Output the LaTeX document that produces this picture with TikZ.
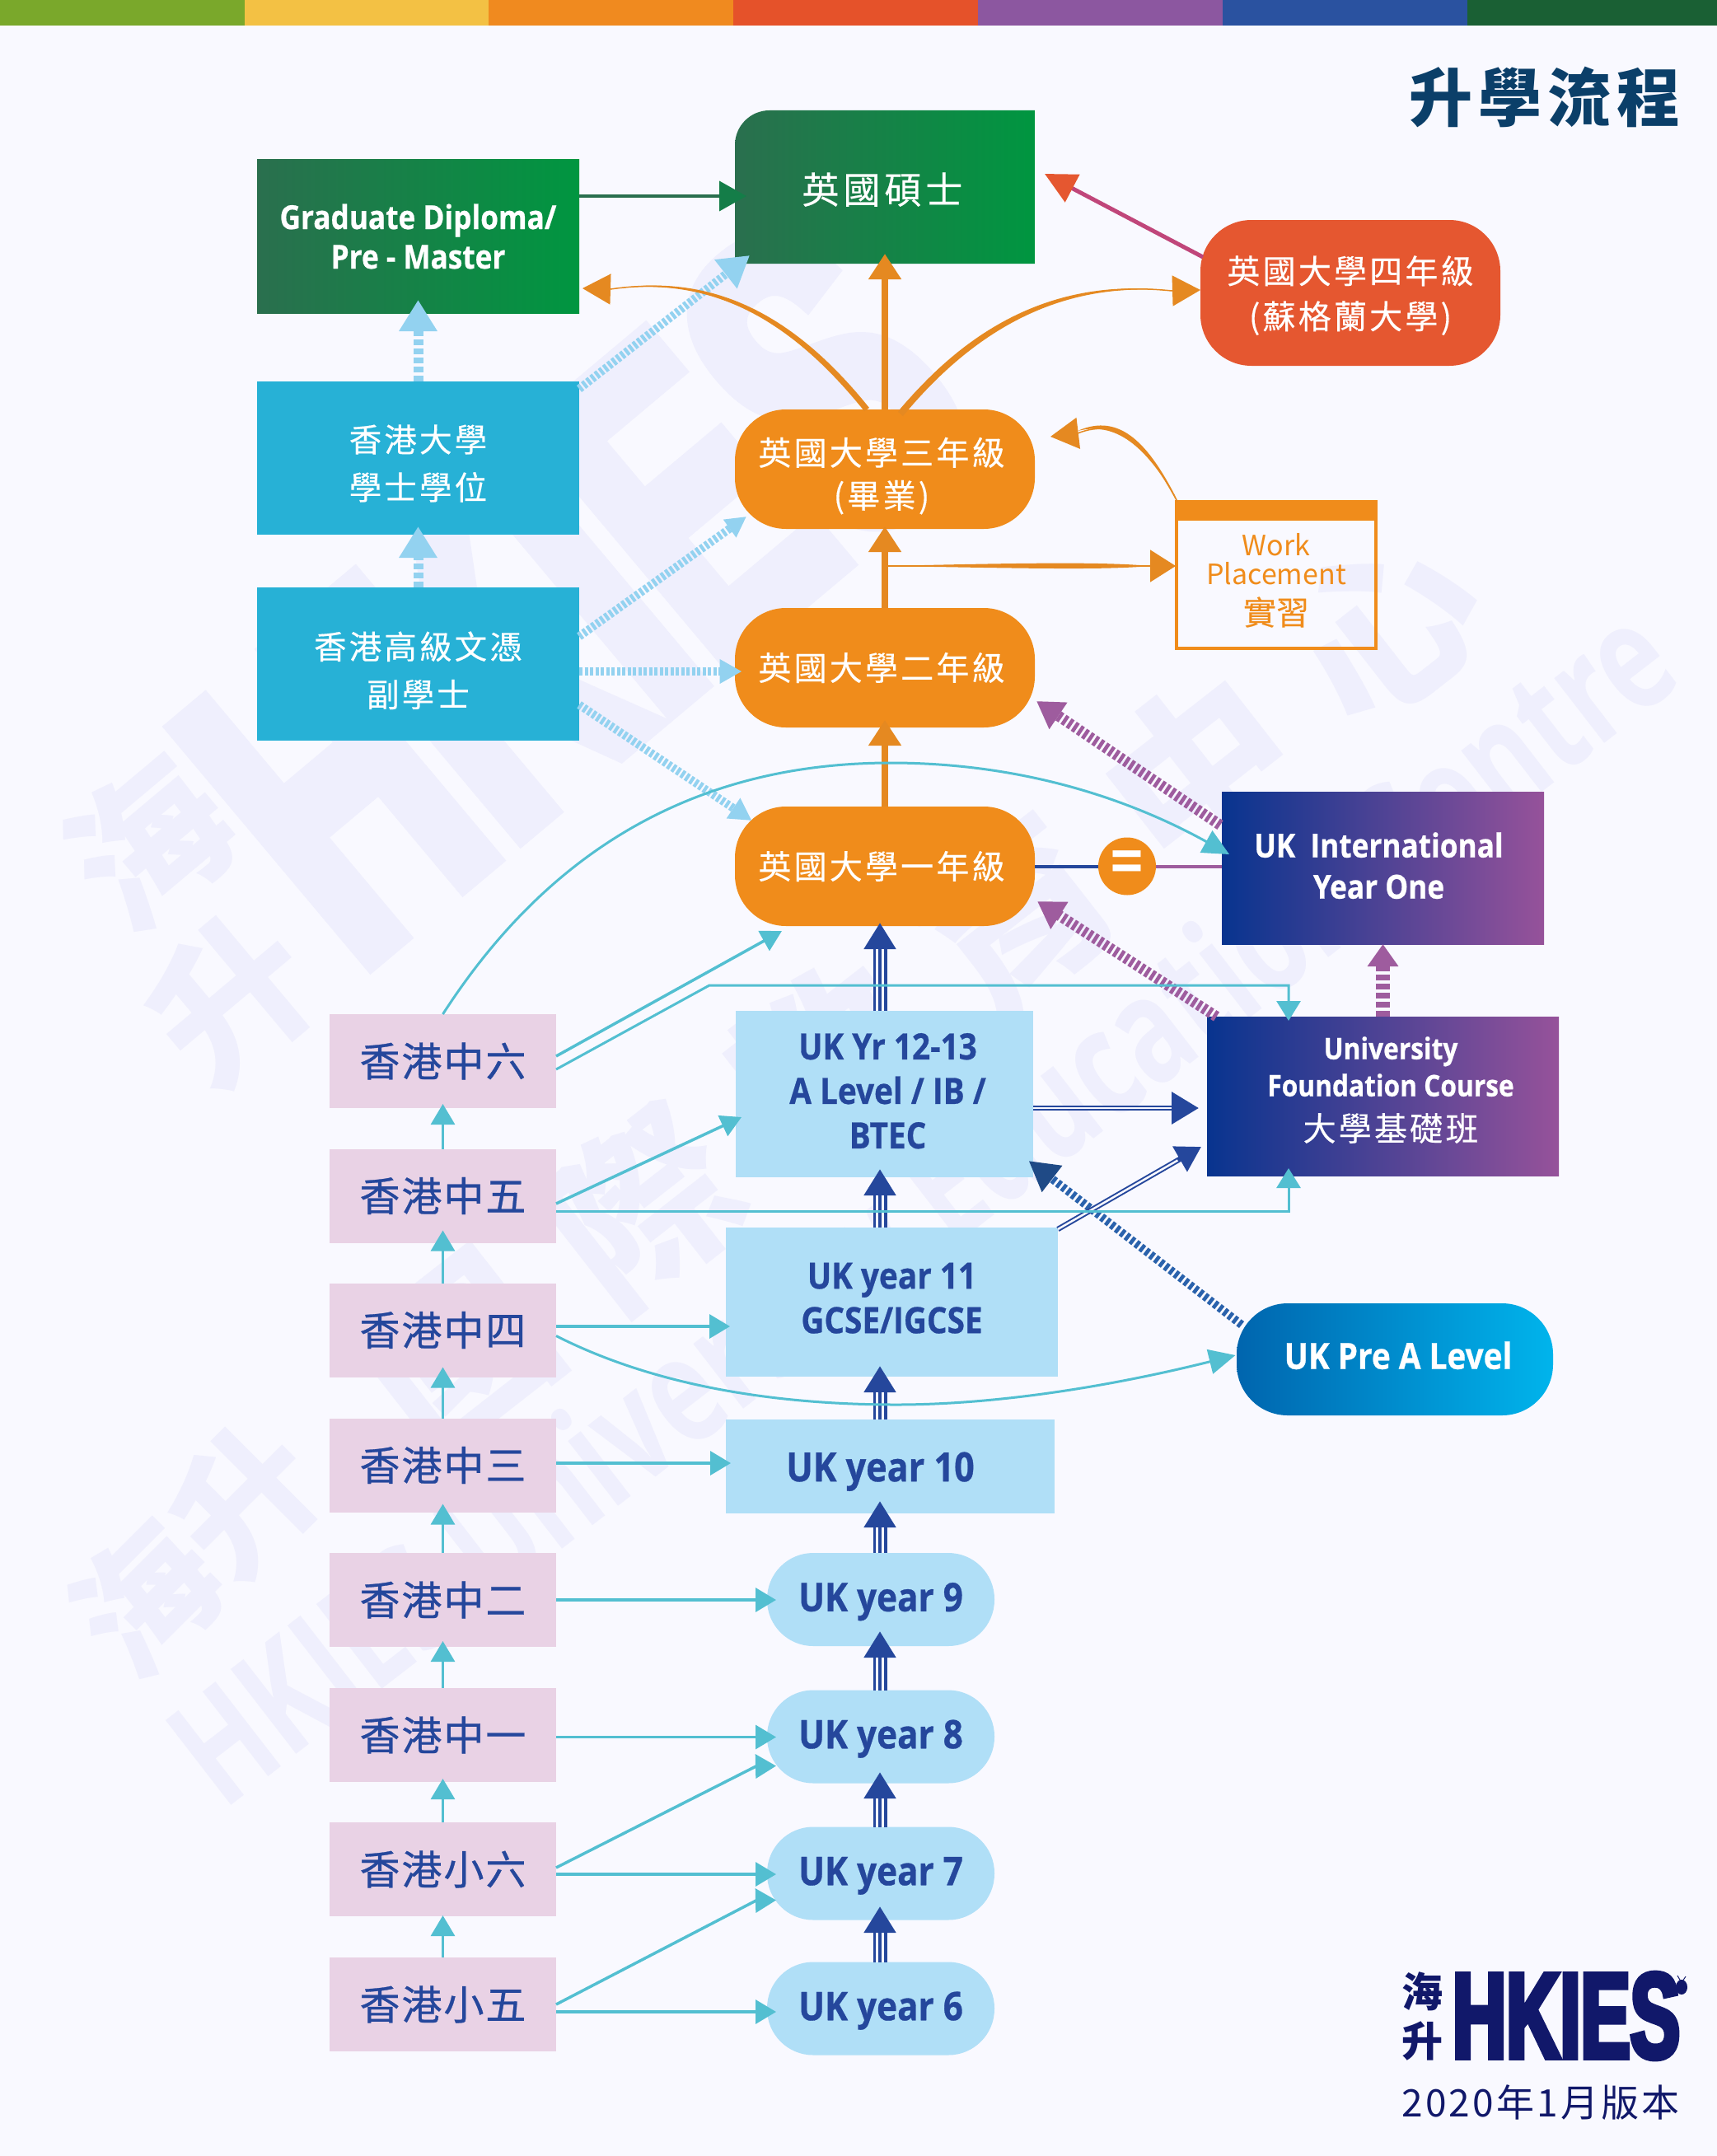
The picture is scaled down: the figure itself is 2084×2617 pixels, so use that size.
\documentclass[tikz,border=0pt]{standalone}
\usepackage{fontspec}
\usetikzlibrary{arrows.meta}
\setmainfont{Noto Sans CJK TC}
\newfontfamily\cjkwide[LetterSpace=8,FakeBold=0.3]{Noto Sans CJK TC}
\newfontfamily\cjkpink[LetterSpace=4,FakeBold=0.6]{Noto Sans CJK TC}
\newfontfamily\cjktitle[LetterSpace=9]{Noto Sans CJK TC}
\newfontfamily\cond[FakeStretch=0.88,FakeBold=0.6]{Open Sans}
\newfontfamily\logofont[FakeStretch=0.61,FakeBold=4]{Liberation Sans}
\newfontfamily\wmfont[FakeStretch=0.72]{Open Sans}
\newcommand{\fz}[2]{\fontsize{#1pt}{#2pt}\selectfont}
\definecolor{bgc}{HTML}{F9F9FF}
\definecolor{wm}{HTML}{EFEFFD}
\definecolor{navy}{HTML}{25479C}
\definecolor{cy}{HTML}{53BFD1}
\definecolor{org}{HTML}{F08C1B}
\definecolor{orgh}{HTML}{E58921}
\definecolor{lb}{HTML}{B0DFF7}
\definecolor{pk}{HTML}{E9D2E5}
\definecolor{sky}{HTML}{27B1D6}
\definecolor{hatch}{HTML}{93D2F0}
\definecolor{purp}{HTML}{9E5C9E}
\definecolor{redc}{HTML}{E55730}
\definecolor{gda}{HTML}{2A6F4E}
\definecolor{gdb}{HTML}{009640}
\definecolor{ina}{HTML}{08348F}
\definecolor{inb}{HTML}{96529A}
\definecolor{pra}{HTML}{0065AE}
\definecolor{prb}{HTML}{00B4EC}
\definecolor{logoc}{HTML}{11186A}
\tikzset{
 box/.style={rectangle,inner sep=0pt,outer sep=0pt,align=center},
 pinkbox/.style={box,fill=pk,text=navy,minimum width=275pt,minimum height=114pt,font=\cjkpink\fz{49}{56}},
 lbbox/.style={box,fill=lb,text=navy,font=\cond\bfseries\fz{44}{54}},
 pillbox/.style={box,fill=lb,text=navy,minimum width=276pt,minimum height=113pt,rounded corners=56pt,font=\cond\bfseries\fz{48}{54}},
 orgbox/.style={box,fill=org,text=white,minimum width=364pt,minimum height=145pt,rounded corners=62pt,font=\cjkwide\fz{40}{52}},
 skybox/.style={box,fill=sky,text=white,minimum width=391pt,minimum height=186pt,font=\cjkwide\fz{39.5}{58}},
 cyanline/.style={draw=cy,line width=3.5pt,-{Triangle[length=25pt,width=29pt,color=cy,fill=cy]}},
 cyanup/.style={draw=cy,line width=3pt,-{Triangle[length=25pt,width=29pt,color=cy,fill=cy]}},
 cyanslant/.style={draw=cy,line width=3.5pt,-{Triangle[length=25pt,width=27pt,color=cy,fill=cy]}},
 orgup/.style={draw=orgh,line width=8pt,-{Triangle[length=31pt,width=38pt,color=orgh,fill=orgh]}},
 tripleline/.style={draw=navy,line width=17pt,-{Triangle[length=32pt,width=37pt,color=navy,fill=navy]},
   postaction={draw=bgc,line width=10.5pt,-,shorten >=32pt},postaction={draw=navy,line width=3.5pt,-,shorten >=32pt}},
 doubleline/.style={draw=navy,line width=6.5pt,-{Triangle[length=33pt,width=38pt,color=navy,fill=navy]},
   postaction={draw=bgc,line width=2.5pt,-,shorten >=33pt}},
 skyup/.style={draw=hatch,line width=12pt,dash pattern=on 7pt off 4pt,-{Triangle[length=38pt,width=44pt,color=hatch,fill=hatch]}},
 skydiag/.style={draw=hatch,line width=10pt,dash pattern=on 4pt off 2.5pt,-{Triangle[length=27pt,width=28pt,color=hatch,fill=hatch]}},
 purpdiag/.style={draw=purp,line width=13pt,dash pattern=on 4.5pt off 3pt,-{Triangle[length=32pt,width=37pt,color=purp,fill=purp]}},
 wmtext/.style={text=wm,inner sep=0pt,font=\bfseries},
 thincurve/.style={draw=orgh,line width=1.5pt},
 wedge/.style={fill=orgh,draw=none},
}
\begin{document}
\begin{tikzpicture}[x=1pt,y=-1pt]
\useasboundingbox (0,0) rectangle (2084,2617);
\fill[bgc] (0,0) rectangle (2084,2617);
% watermarks
\node[wmtext,rotate=40] (wma) at (180,1022) {\fz{190}{190}海};
\node[wmtext,rotate=40] (wmb) at (280,1211) {\fz{190}{190}升};
\node[wmtext,rotate=40,text=wm] (wmc) at (700,716) {\logofont\fz{540}{540}HKIES};
\node[wmtext,rotate=45] (wmd) at (237,1880) {\fz{170}{170}海升};
\node[wmtext,rotate=38] (wme) at (1118,1200) {\addfontfeature{LetterSpace=30}\fz{220}{220}國際教育中心};
\node[wmtext,rotate=37.7] (wmf) at (1130,1475) {\wmfont\bfseries\fz{182}{190}HKIES University Education Centre};
% top bar
\fill[fill={rgb,255:red,122;green,168;blue,43}] (0,0) rectangle (297,31);
\fill[fill={rgb,255:red,243;green,193;blue,68}] (297,0) rectangle (593,31);
\fill[fill={rgb,255:red,240;green,138;blue,31}] (593,0) rectangle (890,31);
\fill[fill={rgb,255:red,229;green,82;blue,42}] (890,0) rectangle (1187,31);
\fill[fill={rgb,255:red,140;green,87;blue,160}] (1187,0) rectangle (1484,31);
\fill[fill={rgb,255:red,42;green,82;blue,160}] (1484,0) rectangle (1781,31);
\fill[fill={rgb,255:red,26;green,96;blue,52}] (1781,0) rectangle (2084,31);
% title and logo
\node[inner sep=0pt,text={rgb,255:red,11;green,63;blue,105}] (title) at (1875,118) {\cjktitle\bfseries\fz{77}{77}升學流程};
\node[inner sep=0pt,text=logoc] (lgh) at (1726,2417) {\bfseries\fz{50}{50}海};
\node[inner sep=0pt,text=logoc] (lgs) at (1726,2477) {\bfseries\fz{50}{50}升};
\node[inner sep=0pt,text=logoc] (lgt) at (1901,2447) {\logofont\bfseries\fz{148}{148}HKIES};
\fill[logoc] (2041,2412) ellipse (7 and 9);
\draw[logoc,line width=1pt] (2040,2405) -- (2036,2398) (2042,2405) -- (2046,2399);
\node[inner sep=0pt,text=logoc] (ver) at (1870,2552) {\addfontfeature{LetterSpace=7}\fz{46}{46}2020年1月版本};
% nodes
\shade[left color=gda,right color=gdb] (892,320) [rounded corners=42pt] -- (892,134) [sharp corners] -- (1256,134) -- (1256,320) -- cycle;
\node[box,text=white,minimum width=364pt,minimum height=186pt,font=\cjkwide\fz{45}{52}] (master) at (1074,227) {\addfontfeature{LetterSpace=11}\rule{0pt}{44pt}英國碩士\hspace*{6pt}};
\node[box,left color=gda,right color=gdb,text=white,minimum width=391pt,minimum height=186pt,font=\cond\bfseries\fz{40}{48}] (grad) at (507.5,287) {Graduate Diploma/\\Pre - Master};
\node[skybox] (hku) at (507.5,556) {\rule{0pt}{46pt}香港大學\\學士學位};
\node[skybox] (assoc) at (507.5,805.5) {\rule{0pt}{50pt}香港高級文憑\\副學士};
\node[orgbox] (yr3) at (1074,569.5) {\rule{0pt}{50pt}英國大學三年級\hspace*{8pt}\\(畢業)\hspace*{8pt}};
\node[orgbox] (yr2) at (1074,810.5) {英國大學二年級\hspace*{8pt}};
\node[orgbox] (yr1) at (1074,1051.5) {英國大學一年級\hspace*{8pt}};
\node[orgbox,fill=redc,minimum height=177pt,font=\cjkwide\fz{40}{55}] (yr4) at (1639,355.5) {\rule{0pt}{40pt}英國大學四年級\\(蘇格蘭大學)};
\fill[org] (1426,607) rectangle (1672,632);
\node[box,draw=org,line width=4pt,minimum width=242pt,minimum height=178pt,text=org,font=\fz{34}{35}] (work) at (1549,698) {\rule{0pt}{40pt}Work\\Placement\\[14pt]{\fz{40}{40}\addfontfeature{FakeBold=0.2}實習}};
\node[box,left color=ina,right color=inb,text=white,minimum width=391pt,minimum height=185pt,font=\cond\bfseries\fz{40}{50}] (intl) at (1678.5,1053.5) {UK\ \ International\hspace*{10pt}\\Year One\hspace*{10pt}\rule[-6pt]{0pt}{6pt}};
\node[box,left color=ina,right color=inb,text=white,minimum width=427pt,minimum height=193pt,font=\cond\bfseries\fz{36}{45}] (found) at (1678.5,1330.5) {\hspace*{19pt}University\\\hspace*{19pt}Foundation Course\\[9pt]\hspace*{19pt}{\mdseries\cjkwide\fz{40}{45}大學基礎班}\rule[-18pt]{0pt}{18pt}};
\node[box,left color=pra,right color=prb,text=white,minimum width=384pt,minimum height=136pt,rounded corners=62pt,font=\cond\bfseries\fz{44}{54}] (prea) at (1693,1650) {\hspace*{8pt}UK Pre A Level\rule[-10pt]{0pt}{10pt}};
\node[box,circle,fill=org,text=white,minimum size=70pt,font=\bfseries\fz{64}{64}] (eq) at (1368,1051.5) {=};
\node[lbbox,minimum width=361pt,minimum height=202pt] (y12) at (1073.5,1328) {\hspace*{8pt}UK Yr 12-13\\\hspace*{8pt}A Level / IB /\\\hspace*{8pt}BTEC\rule[-8pt]{0pt}{8pt}};
\node[lbbox,minimum width=403pt,minimum height=181pt] (y11) at (1082.5,1580.5) {UK year 11\\GCSE/IGCSE\rule[-10pt]{0pt}{10pt}};
\node[lbbox,minimum width=399pt,minimum height=114pt,font=\cond\bfseries\fz{49}{54}] (y10) at (1080.5,1780) {\rule{0pt}{48pt}UK year 10\hspace*{24pt}};
\node[pillbox] (y9) at (1069,1941.5) {\rule{0pt}{40pt}UK year 9};
\node[pillbox] (y8) at (1069,2108) {\rule{0pt}{40pt}UK year 8};
\node[pillbox] (y7) at (1069,2274) {\rule{0pt}{40pt}UK year 7};
\node[pillbox] (y6) at (1069,2438) {\rule{0pt}{40pt}UK year 6};
\node[pinkbox] (s6) at (537.5,1288) {香港中六};
\node[pinkbox] (s5) at (537.5,1451.5) {香港中五};
\node[pinkbox] (s4) at (537.5,1614.5) {香港中四};
\node[pinkbox] (s3) at (537.5,1778.5) {香港中三};
\node[pinkbox] (s2) at (537.5,1942) {香港中二};
\node[pinkbox] (s1) at (537.5,2106) {香港中一};
\node[pinkbox] (p6) at (537.5,2269) {香港小六};
\node[pinkbox] (p5) at (537.5,2433) {香港小五};
% free-end coordinates
\coordinate (tg) at (906,238);
\coordinate (tmh) at (910,310);
\coordinate (ty3) at (906,627);
\coordinate (ty2) at (900.5,815);
\coordinate (ty1) at (912.5,996);
\coordinate (tr) at (1268,211);
\coordinate (tl4) at (1457,352);
\coordinate (tlg) at (707,350);
\coordinate (twy) at (1275,530);
\coordinate (twk) at (1427,687);
\coordinate (tip2) at (1258,851);
\coordinate (tip1) at (1259,1094);
\coordinate (tpa) at (1248.5,1409);
\coordinate (tin) at (1492,1037);
\coordinate (ttf) at (1564,1239);
\coordinate (tbf) at (1564,1418);
\coordinate (tpr) at (1499.5,1645);
\coordinate (ty12f) at (1455,1345);
\coordinate (ty11f) at (1458,1392);
\coordinate (topa) at (949,1130);
\coordinate (toy12) at (900,1356);
% connectors: green, skyblue
\draw[draw=gda,line width=4pt,-{Triangle[length=33pt,width=36pt,color={rgb,255:red,20;green,125;blue,72},fill={rgb,255:red,20;green,125;blue,72}]}] ([yshift=49pt]grad.east) -- (tg);
\draw[skyup] (hku.north) -- ([yshift=16pt]grad.south);
\draw[skyup] (assoc.north) -- ([yshift=10pt]hku.south);
\draw[skydiag,-{Triangle[length=37pt,width=42pt,color=hatch,fill=hatch]}] ([yshift=84pt]hku.east) -- (tmh);
\draw[skydiag,-{Triangle[length=25pt,width=25pt,color=hatch,fill=hatch]}] ([yshift=33pt]assoc.east) -- (ty3);
\draw[skydiag] ([yshift=-9.5pt]assoc.east) -- (ty2);
\draw[skydiag] ([yshift=-50pt]assoc.east) -- (ty1);
% orange
\draw[orgup] (yr3.north) -- ([yshift=12pt]master.south);
\draw[orgup] (yr2.north) -- ([yshift=3pt]yr3.south);
\draw[orgup] (yr1.north) -- ([yshift=9pt]yr2.south);
\fill[wedge] (1049,499) .. controls (947,372) and (849,337) .. (741,351) .. controls (851,333) and (953,368) .. (1055,495) -- cycle;
\draw[thincurve,-{Triangle[length=34pt,width=37pt,color=orgh,fill=orgh]}] ([xshift=-22pt]yr3.north) .. controls (950,370) and (850,335) .. (741,351) -- (tlg);
\fill[wedge] (1090,500) .. controls (1187,382) and (1298,338) .. (1422,353) .. controls (1300,342) and (1193,388) .. (1096,505) -- cycle;
\draw[thincurve,-{Triangle[length=34pt,width=37pt,color=orgh,fill=orgh]}] ([xshift=19pt]yr3.north) .. controls (1190,385) and (1300,340) .. (1422,353) -- (tl4);
\fill[wedge] (1429,607) .. controls (1395,540) and (1360,500) .. (1308,523) .. controls (1360,510) and (1395,550) .. (1429,607) -- cycle;
\draw[thincurve,-{Triangle[length=34pt,width=38pt,color=orgh,fill=orgh]}] ([xshift=-120pt]work.north) .. controls (1395,545) and (1360,505) .. (1308,526) -- (twy);
\fill[wedge] (1077,687) .. controls (1250,683) and (1340,682) .. (1396,687) .. controls (1340,692) and (1250,690) .. (1077,687) -- cycle;
\draw[thincurve,-{Triangle[length=31pt,width=39pt,color=orgh,fill=orgh]}] (1077,687) -- (twk);
% red
\draw[draw={rgb,255:red,192;green,70;blue,122},line width=5pt,-{Triangle[length=38pt,width=37pt,color=redc,fill=redc]}] ([yshift=43.5pt,xshift=3pt]yr4.west) -- (tr);
% equal line
\draw[navy,line width=4pt] (yr1.east) -- (eq.west);
\draw[purp,line width=4pt] (eq.east) -- (eq.east -| intl.west);
% purple
\draw[purpdiag] ([yshift=52pt,xshift=-2pt]intl.west) -- (tip2);
\draw[purpdiag] ([xshift=-202pt]found.north) -- (tip1);
\draw[draw=purp,line width=17pt,dash pattern=on 7pt off 4pt,-{Triangle[length=27pt,width=36pt,color=purp,fill=purp]}] (found.north) -- (intl.south);
% Pre A
\draw[draw={rgb,255:red,42;green,98;blue,172},line width=10pt,dash pattern=on 4.5pt off 3pt,-{Triangle[length=36pt,width=38pt,color={rgb,255:red,31;green,74;blue,134},fill={rgb,255:red,31;green,74;blue,134}]}] ([yshift=42pt,xshift=6pt]prea.west) -- (tpa);
% triple arrows
\foreach \a/\yy in {y6/2314,y7/2151,y8/1980,y9/1822,y10/1658,y11/1419,y12/1120}{
  \coordinate (tipc) at (1068,\yy);
  \coordinate (tailc) at (\a.north -| tipc);
  \draw[tripleline] (tailc) -- (tipc);
}
% double arrows
\draw[doubleline] (y12.east |- ty12f) -- (ty12f);
\draw[doubleline,-{Triangle[length=30pt,width=34pt,color=navy,fill=navy]}] (y11.north east) ++(0,2) -- (ty11f);
% cyan
\foreach \a/\b/\s in {s5/s6/5,s4/s5/15,s3/s4/12,s2/s3/10,s1/s2/7,p6/s1/4,p5/p6/1}{
  \draw[cyanup] (\a.north) -- ([yshift=\s pt]\b.south);
}
\draw[cyanslant] ([yshift=6pt]s6.east) -- (topa);
\draw[cyanup,-{Triangle[length=24pt,width=29pt,color=cy,fill=cy]}] ([yshift=-10pt]s6.east) -- (861,1196) -- (1564,1196) -- (ttf);
\draw[cyanslant] ([yshift=-9.5pt]s5.east) -- (toy12);
\draw[cyanup,-{Triangle[length=24pt,width=29pt,color=cy,fill=cy]}] ([yshift=-18.5pt]s5.east) -- (1564,1470) -- (tbf);
\draw[cyanline,line width=3pt,-{Triangle[length=32pt,width=30pt,color=cy,fill=cy]}] (s6.north) .. controls (680,1010) and (870,926) .. (1081,926) .. controls (1250,926) and (1380,975) .. (tin);
\draw[cyanline,line width=3pt,-{Triangle[length=32pt,width=30pt,color=cy,fill=cy]}] ([yshift=-7pt]s4.east) .. controls (800,1685) and (950,1705) .. (1088,1705) .. controls (1230,1705) and (1380,1675) .. (tpr);
\coordinate (t4) at (886,1610);
\draw[cyanline] ([yshift=4.5pt]s4.east) -- (t4);
\coordinate (t3) at (887,1776);
\draw[cyanline] ([yshift=2.5pt]s3.east) -- (t3);
\foreach \a/\yy in {s2/1942,s1/2108.5}{
  \coordinate (th) at (942,\yy);
  \draw[cyanline] (\a.east |- th) -- (th);
}
\coordinate (t7) at (942,2275);
\coordinate (t6) at (942,2442);
\draw[cyanline] (p6.east |- t7) -- (t7);
\draw[cyanline] (p5.east |- t6) -- (t6);
\coordinate (t8b) at (942,2143.5);
\coordinate (t7b) at (942,2306.5);
\draw[cyanline] ([yshift=2pt]p6.east) -- (917.5,2144) -- (t8b);
\draw[cyanline] (p5.east) -- (917.5,2307) -- (t7b);
\end{tikzpicture}
\end{document}
